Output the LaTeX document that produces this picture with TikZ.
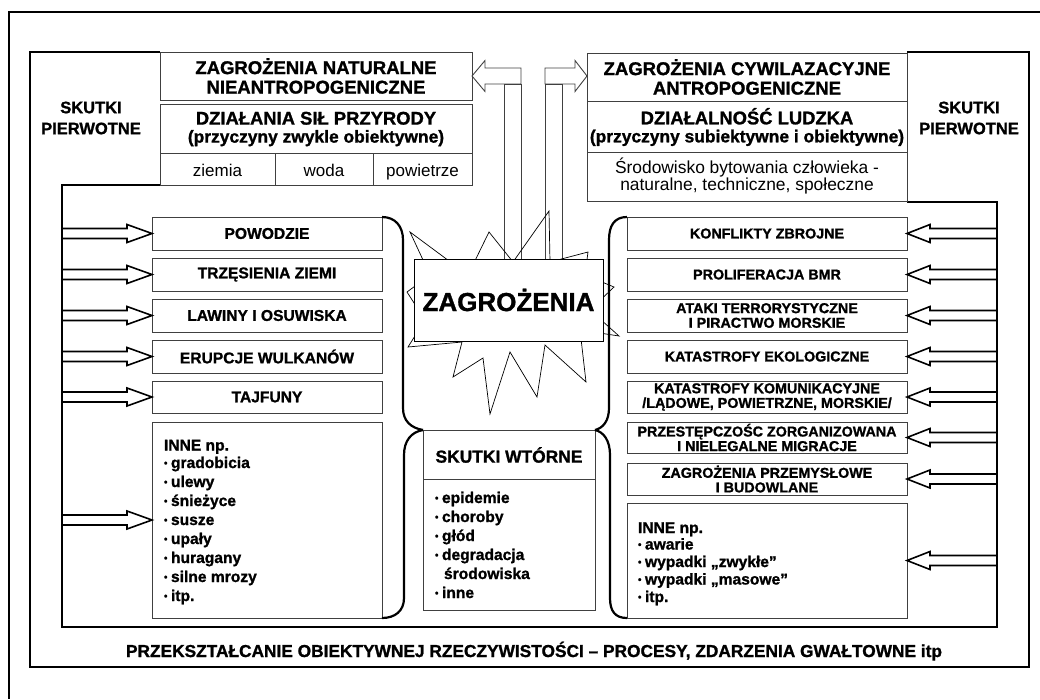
\documentclass[tikz,border=0pt]{standalone}
\usepackage{fontspec}
\setmainfont{Liberation Sans}[BoldFeatures={FakeBold=1.2}]
\usetikzlibrary{calc}
\newcommand\bul{{\fontsize{10}{10}\selectfont\raisebox{0.3ex}{•}}\hspace{3.5pt}}
\newcommand\arrowL[1]{\draw[barrow] ($(#1)+(-90,-5)$) -- ($(#1)+(-25,-5)$) -- ($(#1)+(-25,-9)$) -- (#1) -- ($(#1)+(-25,9)$) -- ($(#1)+(-25,5)$) -- ($(#1)+(-90,5)$);}
\newcommand\arrowR[1]{\draw[barrow] ($(#1)+(90,-5)$) -- ($(#1)+(23,-5)$) -- ($(#1)+(23,-9)$) -- (#1) -- ($(#1)+(23,9)$) -- ($(#1)+(23,5)$) -- ($(#1)+(90,5)$);}
\begin{document}
\begin{tikzpicture}[x=1pt,y=-1pt,
  every node/.style={inner sep=0pt, outer sep=0pt},
  bx/.style={draw=black!75, line width=0.9pt, fill=white, align=center},
  lbox/.style={bx, minimum width=230pt, minimum height=33pt, font=\bfseries\fontsize{15.6}{16}\selectfont},
  rbox/.style={bx, minimum width=280pt, minimum height=33pt, font=\bfseries\fontsize{14.3}{14.6}\selectfont},
  frameline/.style={line width=2.6pt, line join=miter},
  outerline/.style={line width=1.6pt},
  bracket/.style={line width=2.2pt},
  barrow/.style={line width=1.6pt, line join=miter},
  tarrow/.style={draw=black!75, line width=0.9pt},
  starline/.style={line width=0.7pt, line join=miter},
  item/.style={anchor=base west, font=\bfseries\fontsize{15.6}{16}\selectfont},
  cell/.style={anchor=base, font=\fontsize{17}{17}\selectfont},
  thinsep/.style={draw=black!75, line width=0.9pt},
]
\useasboundingbox (0,0) rectangle (1040,699);

% frames
\draw[outerline] (1040,12) -- (9,12) -- (9,699);
\draw[frameline] (160,52) -- (30,52) -- (30,667) -- (1029,667) -- (1029,52) -- (907,52);
\draw[frameline] (160,185) -- (62,185) -- (62,627) -- (997,627) -- (997,202) -- (907,202);

% top left boxes
\node[bx, minimum width=312pt, minimum height=48pt, font=\bfseries\fontsize{18.5}{19.5}\selectfont] (natur) at (316,76) {ZAGROŻENIA NATURALNE\\NIEANTROPOGENICZNE};
\node[bx, minimum width=312pt, minimum height=81pt] (sily) at (316,144.5) {};
\draw[thinsep] (160,153) -- (472,153);
\draw[thinsep] (275,153) -- (275,185);
\draw[thinsep] (373,153) -- (373,185);
\node[align=center, font=\bfseries\fontsize{17.4}{18}\selectfont] (silyt) at (316,129) {{\fontsize{18.4}{18}\selectfont DZIAŁANIA SIŁ PRZYRODY}\\(przyczyny zwykle obiektywne)};
\node[cell] (ziemia) at (217.5,176) {ziemia};
\node[cell] (woda) at (324,176) {woda};
\node[cell] (powietrze) at (422.5,176) {powietrze};

% top right boxes
\node[bx, minimum width=320pt, minimum height=148pt] (cyw) at (747,127) {};
\draw[thinsep] (587,101) -- (907,101);
\draw[thinsep] (587,152) -- (907,152);
\node[align=center, font=\bfseries\fontsize{18.5}{19.5}\selectfont] (cywt) at (747,77) {ZAGROŻENIA CYWILAZACYJNE\\ANTROPOGENICZNE};
\node[align=center, font=\bfseries\fontsize{17.4}{18}\selectfont] (ludz) at (747,127) {{\fontsize{18.4}{18}\selectfont DZIAŁALNOŚĆ LUDZKA}\\(przyczyny subiektywne i obiektywne)};
\node[align=center, font=\fontsize{17.4}{17}\selectfont] (srod) at (747,176) {Środowisko bytowania człowieka -\\naturalne, techniczne, społeczne};

% skutki pierwotne
\node[align=center, font=\bfseries\fontsize{16.5}{21}\selectfont] (spl) at (91,118) {SKUTKI\\PIERWOTNE};
\node[align=center, font=\bfseries\fontsize{16.5}{21}\selectfont] (spr) at (969,118) {SKUTKI\\PIERWOTNE};

% top arrows
\coordinate (ltip) at (natur.east);
\coordinate (rtip) at (587,76);
\draw[tarrow] ($(ltip)+(49,-8)$) -- ($(ltip)+(13,-8)$) -- ($(ltip)+(13,-15.5)$) -- (ltip) -- ($(ltip)+(13,15.5)$) -- ($(ltip)+(13,8)$) -- ($(ltip)+(49,8)$) -- cycle;
\draw[tarrow] (504,84) rectangle (521,259);
\draw[tarrow] ($(rtip)+(-42,-8)$) -- ($(rtip)+(-12,-8)$) -- ($(rtip)+(-12,-15.5)$) -- (rtip) -- ($(rtip)+(-12,15.5)$) -- ($(rtip)+(-12,8)$) -- ($(rtip)+(-42,8)$) -- cycle;
\draw[tarrow] (545,84) rectangle (562,259);

% star
\draw[starline] (410,232) -- (468,275) -- (489,232) -- (513,262) -- (549,211) -- (550,262) -- (588,252) -- (585,275) -- (614,287) -- (590,310) -- (619,336) -- (580,330) -- (586,382) -- (545,345) -- (537,397) -- (510,352) -- (490,414) -- (483,358) -- (453,377) -- (462,342) -- (408,347) -- (425,320) -- (407,292) -- (430,275) -- cycle;

% center box
\node[bx, draw=black, line width=1pt, minimum width=189pt, minimum height=82pt, font=\bfseries\fontsize{26}{26}\selectfont] (zag) at (508.5,300) {ZAGROŻENIA};

% left boxes
\node[lbox] (powodzie) at (267,233.5) {POWODZIE};
\node[lbox] (trzes) at (267,274.5) {TRZĘSIENIA ZIEMI};
\node[lbox] (lawiny) at (267,315.5) {LAWINY I OSUWISKA};
\node[lbox] (erupcje) at (267,356.5) {ERUPCJE WULKANÓW};
\node[lbox, minimum height=32pt] (tajfuny) at (267,397) {TAJFUNY};
\node[bx, minimum width=230pt, minimum height=196pt] (linne) at (267,520) {};
\node[item] (linnet) at (164,450.5) {INNE np.};
\foreach \t [count=\i] in {gradobicia, ulewy, śnieżyce, susze, upały, huragany, silne mrozy, itp.}
  \node[item] (li\i) at (164,{468+19*(\i-1)}) {\bul\t};

% right boxes
\node[rbox] (konf) at (767,233.5) {KONFLIKTY ZBROJNE};
\node[rbox] (prolif) at (767,274.5) {PROLIFERACJA BMR};
\node[rbox] (ataki) at (767,315.5) {ATAKI TERRORYSTYCZNE\\I PIRACTWO MORSKIE};
\node[rbox] (ekolog) at (767,356.5) {KATASTROFY EKOLOGICZNE};
\node[rbox, minimum height=32pt] (komun) at (767,397) {KATASTROFY KOMUNIKACYJNE\\/LĄDOWE, POWIETRZNE, MORSKIE/};
\node[rbox, minimum height=31pt] (przest) at (767,437.5) {PRZESTĘPCZOŚC ZORGANIZOWANA\\I NIELEGALNE MIGRACJE};
\node[rbox, minimum height=32pt] (przem) at (767,479) {ZAGROŻENIA PRZEMYSŁOWE\\I BUDOWLANE};
\node[bx, minimum width=280pt, minimum height=115pt] (rinne) at (767,560.5) {};
\node[item] (rinnet) at (638,533) {INNE np.};
\node[item] (ri1) at (638,549.5) {\bul awarie};
\node[item] (ri2) at (638,567) {\bul wypadki „zwykłe”};
\node[item] (ri3) at (638,584.5) {\bul wypadki „masowe”};
\node[item] (ri4) at (638,602) {\bul itp.};

% skutki wtorne
\node[bx, minimum width=172pt, minimum height=180pt] (wt) at (509,520) {};
\draw[thinsep] (423,479) -- (595,479);
\node[font=\bfseries\fontsize{17.4}{18}\selectfont] (wtt) at (509,455) {SKUTKI WTÓRNE};
\node[item] (w1) at (435,503) {\bul epidemie};
\node[item] (w2) at (435,522) {\bul choroby};
\node[item] (w3) at (435,541) {\bul głód};
\node[item] (w4) at (435,560) {\bul degradacja};
\node[item] (w5) at (444,579) {środowiska};
\node[item] (w6) at (435,598) {\bul inne};

% brackets
\draw[bracket] (powodzie.north east) .. controls (395,217) and (403,226) .. (403,240) -- (403,408) .. controls (403,421) and (411,428) .. (wt.north west);
\draw[bracket] (wt.north west) .. controls (411,432) and (404,441) .. (404,455) -- (404,598) .. controls (404,611) and (395,618) .. (linne.south east);
\draw[bracket] (konf.north west) .. controls (614,217) and (609,226) .. (609,240) -- (609,408) .. controls (609,421) and (603,428) .. (wt.north east);
\draw[bracket] (wt.north east) .. controls (604,432) and (610,441) .. (610,455) -- (610,598) .. controls (610,611) and (615,618) .. (rinne.south west);

% side arrows
\arrowL{powodzie.west}
\arrowL{trzes.west}
\arrowL{lawiny.west}
\arrowL{erupcje.west}
\arrowL{tajfuny.west}
\arrowL{linne.west}
\arrowR{konf.east}
\arrowR{prolif.east}
\arrowR{ataki.east}
\arrowR{ekolog.east}
\arrowR{komun.east}
\arrowR{przest.east}
\arrowR{przem.east}
\arrowR{rinne.east}

% bottom text
\node[anchor=base, font=\bfseries\fontsize{17.3}{18}\selectfont] (bottom) at (534,657) {PRZEKSZTAŁCANIE OBIEKTYWNEJ RZECZYWISTOŚCI – PROCESY, ZDARZENIA GWAŁTOWNE itp};
\end{tikzpicture}
\end{document}
